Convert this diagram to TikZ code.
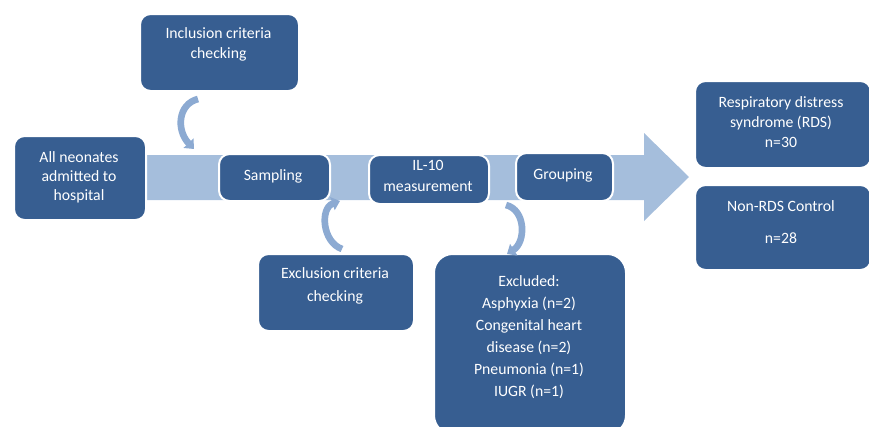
\documentclass[tikz,border=0pt]{standalone}
\usepackage{fontspec}
\setmainfont{Carlito}
\usetikzlibrary{arrows.meta}
\definecolor{boxblue}{RGB}{55,94,145}
\definecolor{bandblue}{RGB}{165,190,220}
\definecolor{curvblue}{RGB}{140,170,210}
\begin{document}
\begin{tikzpicture}[x=0.75pt,y=-0.75pt,
  box/.style={fill=boxblue, draw=white, line width=1.5pt, rounded corners=8pt, inner sep=0pt, anchor=north west},
  txt/.style={text=white, align=center, font=\fontsize{11.8}{15}\selectfont, inner sep=0pt},
  curv/.style={draw=curvblue, line width=5pt, -{Triangle[width=10pt,length=6pt]}}]
\useasboundingbox (0,0) rectangle (869,426);
\clip (0,0) rectangle (869,426);
% band with big arrow
\fill[bandblue] (145,155) -- (644,155) -- (644,133) -- (689,177) -- (644,221) -- (644,200) -- (145,200) -- cycle;
% boxes
\node[box, minimum width={159*0.75pt}, minimum height={77*0.75pt}] (incl) at (139,13) {};
\node[box, minimum width={132*0.75pt}, minimum height={84*0.75pt}] (all) at (13,135) {};
\node[box, minimum width={111*0.75pt}, minimum height={47*0.75pt}] (samp) at (218,153) {};
\node[box, minimum width={120*0.75pt}, minimum height={49*0.75pt}] (il) at (368,154) {};
\node[box, minimum width={97*0.75pt}, minimum height={48*0.75pt}] (grp) at (515,152) {};
\node[box, minimum width={176*0.75pt}, minimum height={87*0.75pt}] (rds) at (694,80) {};
\node[box, minimum width={176*0.75pt}, minimum height={85*0.75pt}] (non) at (694,184) {};
\node[box, minimum width={156*0.75pt}, minimum height={77*0.75pt}] (excl) at (257,253) {};
\node[box, rounded corners=14pt, minimum width={192*0.75pt}, minimum height={180*0.75pt}] (exd) at (433,253) {};
% texts
\node[txt] at (218.5,44) {Inclusion criteria\\checking};
\node[txt, font=\fontsize{11.8}{14.3}\selectfont] at (79,177) {All neonates\\admitted to\\hospital};
\node[txt] at (273,176) {Sampling};
\node[txt, font=\fontsize{11.8}{15.5}\selectfont] at (428,176) {IL-10\\measurement};
\node[txt] at (563,175) {Grouping};
\node[txt] at (781,122) {Respiratory distress\\syndrome (RDS)\\n=30};
\node[txt] at (781,206) {Non-RDS Control};
\node[txt] at (781,238) {n=28};
\node[txt, font=\fontsize{11.8}{17}\selectfont] at (335,286) {Exclusion criteria\\checking};
\node[txt, font=\fontsize{11.8}{16.5}\selectfont] at (529,337) {Excluded:\\Asphyxia (n=2)\\Congenital heart\\disease (n=2)\\Pneumonia (n=1)\\IUGR (n=1)};
% curved arrows
\coordinate (a1s) at (198,99);
\coordinate (a1e) at (194,149);
\coordinate (a2s) at (342,249);
\coordinate (a2e) at (340,201);
\coordinate (a3s) at (506,205);
\coordinate (a3e) at (507,254);
\draw[curv] (a1s) .. controls (178,104) and (176,130) .. (a1e);
\draw[curv] (a2s) .. controls (322,242) and (320,208) .. (a2e);
\draw[curv] (a3s) .. controls (526,210) and (526,242) .. (a3e);
\end{tikzpicture}
\end{document}
